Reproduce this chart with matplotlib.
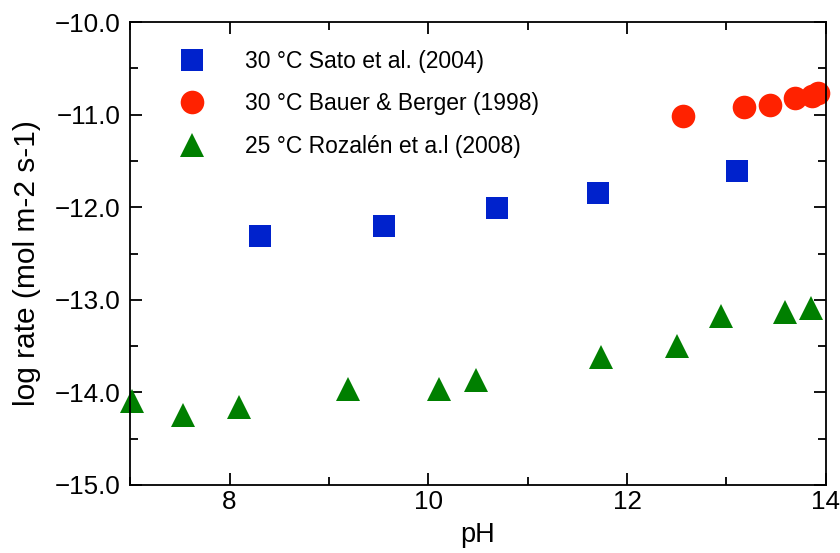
import numpy as np
import matplotlib.pyplot as plt
from matplotlib.ticker import MultipleLocator, FuncFormatter

plt.rcParams['font.family'] = ['Liberation Sans', 'DejaVu Sans']

# Sato et al. (2004), 30 C
sato_ph = [8.31, 9.55, 10.69, 11.71, 13.11]
sato_rate = [-12.31, -12.20, -12.01, -11.85, -11.61]

# Bauer & Berger (1998), 30 C
bauer_ph = [12.56, 13.18, 13.44, 13.69, 13.86, 13.92]
bauer_rate = [-11.01, -10.92, -10.89, -10.82, -10.80, -10.77]

# Rozalen et al. (2008), 25 C
roz_ph = [7.02, 7.53, 8.10, 9.19, 10.11, 10.48, 11.74, 12.50, 12.95, 13.59, 13.85]
roz_rate = [-14.09, -14.24, -14.16, -13.96, -13.96, -13.87, -13.62, -13.50, -13.17, -13.13, -13.09]

labels = ["30 °C Sato et al. (2004)",
          "30 °C Bauer & Berger (1998)",
          "25 °C Rozalén et a.l (2008)"]

fig = plt.figure(figsize=(8.4, 5.53), dpi=100)
ax = fig.add_axes([0.155, 0.123, 0.828, 0.837])

ax.plot(sato_ph, sato_rate, 's', color='#0022cc', ms=15.5, mew=0, label=labels[0], clip_on=False)
ax.plot(bauer_ph, bauer_rate, 'o', color='#ff2200', ms=17, mew=0, label=labels[1], clip_on=False)
ax.plot(roz_ph, roz_rate, '^', color='#007f00', ms=17, mew=0, label=labels[2], clip_on=False)

ax.set_xlim(7, 14)
ax.set_ylim(-15, -10)
ax.xaxis.set_major_locator(MultipleLocator(2))
ax.xaxis.set_minor_locator(MultipleLocator(1))
ax.yaxis.set_major_locator(MultipleLocator(1))
ax.yaxis.set_minor_locator(MultipleLocator(0.5))
ax.yaxis.set_major_formatter(FuncFormatter(lambda v, p: f"{v:.1f}".replace("-", "\u2212")))
ax.set_xticks([8, 10, 12, 14])

ax.tick_params(which='both', direction='in', top=True, right=True, width=1.3, labelsize=18.7)
ax.tick_params(axis='y', pad=7)
ax.tick_params(which='major', length=8.5)
ax.tick_params(which='minor', length=5.5)
for sp in ax.spines.values():
    sp.set_linewidth(1.3)

ax.set_xlabel("pH", fontsize=19.5)
ax.set_ylabel("log rate (mol m-2 s-1)", fontsize=21.5)
ax.xaxis.set_label_coords(0.5, -0.08)
ax.yaxis.set_label_coords(-0.128, 0.479)

ax.legend(loc='upper left', bbox_to_anchor=(0.04, 0.985), frameon=False,
          fontsize=16.5, labelspacing=0.85, handletextpad=1.7, numpoints=1,
          handlelength=1.2)

fig.savefig("out.png", dpi=100)
